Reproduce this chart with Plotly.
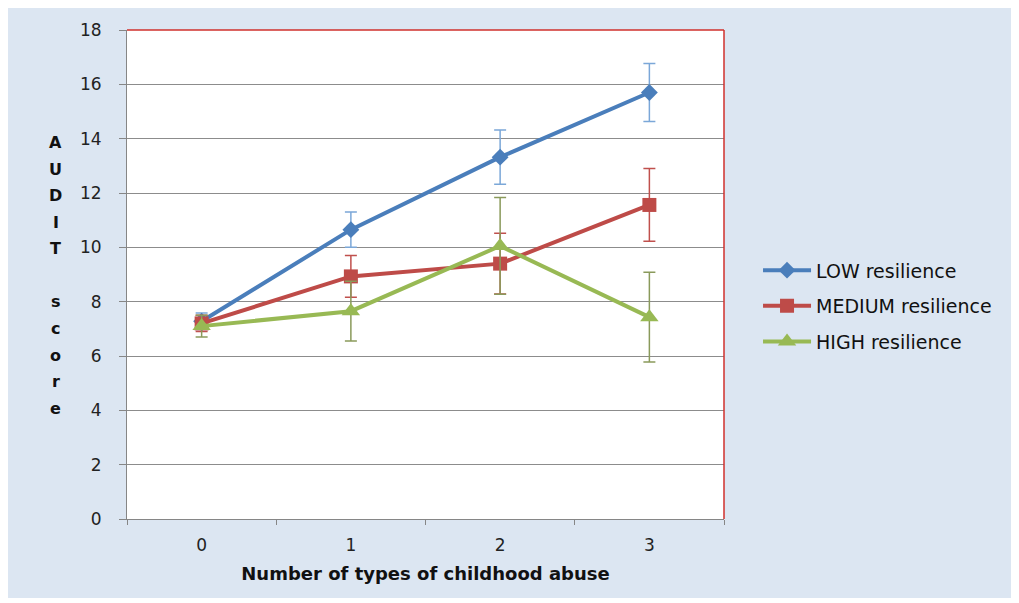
import plotly.graph_objects as go

categories = ["0", "1", "2", "3"]
series_names = ["LOW resilience", "MEDIUM resilience", "HIGH resilience"]
low_vals = [7.28, 10.65, 13.32, 15.70]
low_err = [0.30, 0.65, 1.00, 1.07]
med_vals = [7.20, 8.93, 9.40, 11.56]
med_err = [0.30, 0.77, 1.12, 1.34]
high_vals = [7.10, 7.65, 10.05, 7.43]
high_err = [0.40, 1.10, 1.78, 1.65]
y_ticks = [0, 2, 4, 6, 8, 10, 12, 14, 16, 18]
y_title = "AUDIT score"
x_title = "Number of types of childhood abuse"

line_colors = ["#4a7ebb", "#be4b48", "#98b954"]
err_colors = ["#7ba7d8", "#c0504d", "#8a9a5b"]
symbols = ["diamond", "square", "triangle-up"]
sizes = [13, 14, 16]

FONT = "DejaVu Sans"
fig = go.Figure()
for name, vals, errs, lc, ec, sym, sz in zip(series_names, [low_vals, med_vals, high_vals],
                                            [low_err, med_err, high_err], line_colors,
                                            err_colors, symbols, sizes):
    fig.add_trace(go.Scatter(
        x=categories, y=vals, name=name, mode="lines+markers", legendgroup=name,
        line=dict(color=lc, width=4),
        marker=dict(symbol=sym, size=sz, color=lc),
        error_y=dict(type="data", array=errs, visible=True, color=ec, thickness=1.5, width=6),
    ))

# white plot area over blue paper
fig.add_shape(type="rect", xref="x domain", yref="y domain", x0=0, x1=1, y0=0, y1=1,
              fillcolor="white", line=dict(width=0), layer="below")
# red top and right borders
fig.add_shape(type="line", xref="x domain", yref="y domain", x0=0, x1=1, y0=1, y1=1,
              line=dict(color="#d0312d", width=1.5))
fig.add_shape(type="line", xref="x domain", yref="y domain", x0=1, x1=1, y0=0, y1=1,
              line=dict(color="#d0312d", width=1.5))

# stacked vertical y title letters
step = 0.977
top_val = 13.85
for i, ch in enumerate(y_title):
    if ch == " ":
        continue
    fig.add_annotation(x=-0.119, xref="paper", y=top_val - i * step, yref="y",
                       text="<b>%s</b>" % ch, showarrow=False,
                       font=dict(family=FONT, size=16, color="#111111"),
                       xanchor="center", yanchor="middle")

fig.update_layout(
    width=1003, height=590,
    paper_bgcolor="#dce6f2", plot_bgcolor="white",
    margin=dict(l=119, r=287, t=19, b=79),
    font=dict(family=FONT, size=16, color="#222222"),
    showlegend=True,
    legend=dict(x=1.057, y=0.435, xanchor="left", yanchor="middle", itemwidth=48,
                bgcolor="rgba(0,0,0,0)", font=dict(family=FONT, size=19, color="#111111"),
                tracegroupgap=8),
    xaxis=dict(type="category", tickson="boundaries", ticks="outside", ticklen=5,
               tickcolor="#868686", showline=True, linecolor="#868686", linewidth=1,
               showgrid=False, range=[-0.5, 3.5], ticklabelstandoff=11,
               title=dict(text="<b>%s</b>" % x_title, font=dict(family=FONT, size=18, color="#111111"), standoff=12),
               tickfont=dict(family=FONT, size=17, color="#222222")),
    yaxis=dict(range=[0, 18], tickvals=y_ticks, ticks="outside", ticklen=7,
               tickcolor="#868686", showline=True, linecolor="#868686", linewidth=1,
               showgrid=True, gridcolor="#8c8c8c", gridwidth=1, zeroline=False,
               ticklabelstandoff=14,
               tickfont=dict(family=FONT, size=17, color="#222222")),
)

fig.write_html("out.html")
